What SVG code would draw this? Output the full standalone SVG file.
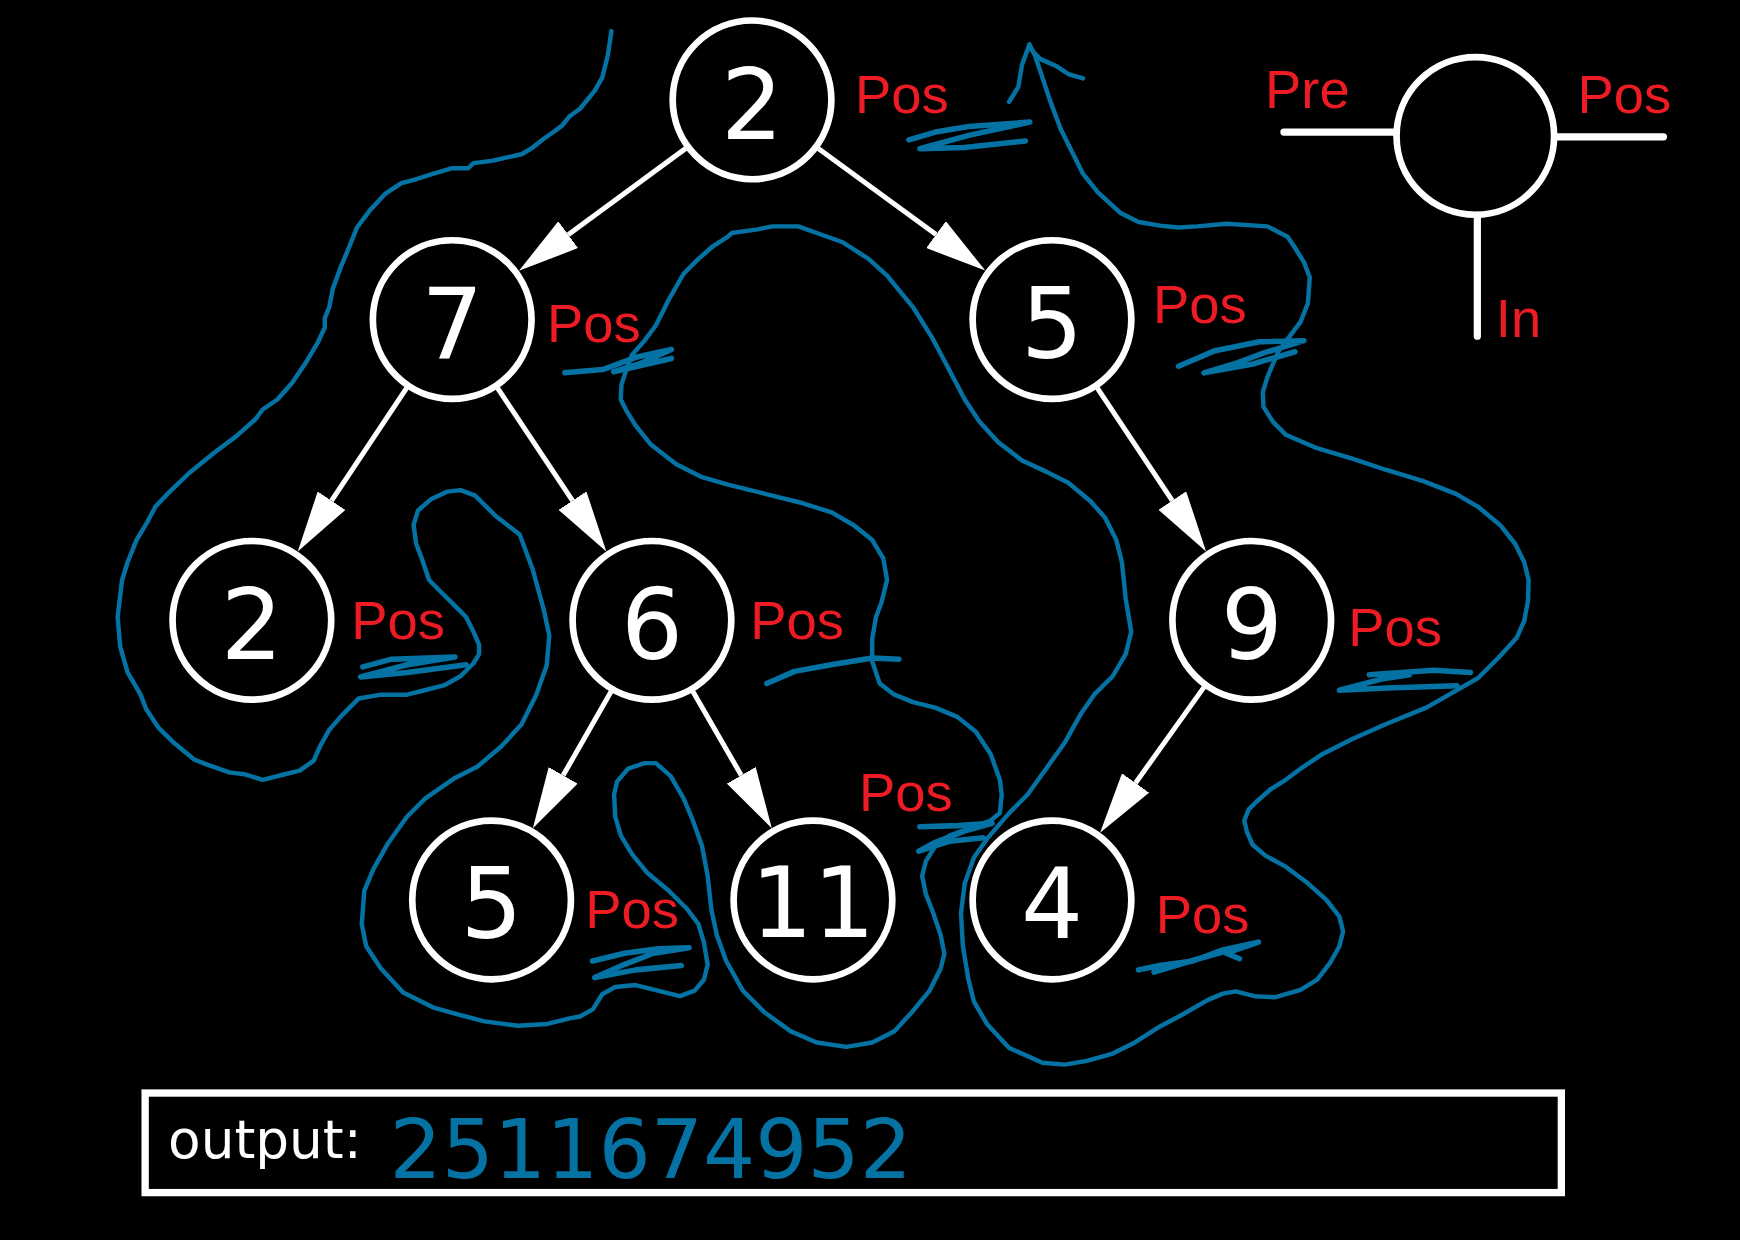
<svg xmlns="http://www.w3.org/2000/svg" width="1740" height="1240" viewBox="0 0 1740 1240">
<defs>
<style>
.node{fill:none;stroke:#fff;stroke-width:6}
.val{fill:#fff;font-family:"DejaVu Sans",sans-serif;font-size:88px;text-anchor:middle}
.lbl{fill:#ed1c24;font-family:"Liberation Sans",Arial,sans-serif;font-size:49px}
.edge{fill:none;stroke:#fff;stroke-width:4.5}
.leg{fill:none;stroke:#fff;stroke-width:6.5;stroke-linecap:round}
.trav{fill:none;stroke:#0572a4;stroke-width:4;stroke-linejoin:round;stroke-linecap:round}
.scr{fill:none;stroke:#0572a4;stroke-width:5;stroke-linejoin:round;stroke-linecap:round}
</style>
<marker id="ah" markerUnits="userSpaceOnUse" markerWidth="55" markerHeight="30" refX="0" refY="15" orient="auto" viewBox="0 0 55 30">
<path d="M0,0 L55,15 L0,30 Z" fill="#fff"/>
</marker>
</defs>
<rect x="0" y="0" width="1740" height="1240" fill="#000"/>
<g transform="scale(1.109694)">
<g id="connectors">
<line class="edge" x1="618" y1="133.7" x2="512" y2="211.5" marker-end="url(#ah)"/>
<line class="edge" x1="737.4" y1="133.8" x2="843.5" y2="211.4" marker-end="url(#ah)"/>
<line class="edge" x1="366.5" y1="349.6" x2="298.8" y2="451.2" marker-end="url(#ah)"/>
<line class="edge" x1="448.4" y1="349.7" x2="515.9" y2="451.1" marker-end="url(#ah)"/>
<line class="edge" x1="988.9" y1="349.7" x2="1056.4" y2="451.1" marker-end="url(#ah)"/>
<line class="edge" x1="550.7" y1="623.2" x2="507.5" y2="698.7" marker-end="url(#ah)"/>
<line class="edge" x1="624.4" y1="623.1" x2="668" y2="698.7" marker-end="url(#ah)"/>
<line class="edge" x1="1085" y1="619.2" x2="1023.3" y2="705.6" marker-end="url(#ah)"/>
</g>
<g id="node-root">
<circle class="node" cx="677.7" cy="90" r="71.5"/>
<text class="val" x="677.7" y="125">2</text>
<text class="lbl" x="770.5" y="102">Pos</text>
</g>
<g id="node-7">
<circle class="node" cx="407.5" cy="288" r="71.5"/>
<text class="val" x="407.5" y="323">7</text>
<text class="lbl" x="493" y="308">Pos</text>
</g>
<g id="node-5a">
<circle class="node" cx="948" cy="288" r="71.5"/>
<text class="val" x="948" y="323">5</text>
<text class="lbl" x="1039" y="291.5">Pos</text>
</g>
<g id="node-2b">
<circle class="node" cx="227" cy="559" r="71.5"/>
<text class="val" x="227" y="594">2</text>
<text class="lbl" x="316.5" y="576">Pos</text>
</g>
<g id="node-6">
<circle class="node" cx="587.5" cy="559" r="71.5"/>
<text class="val" x="587.5" y="594">6</text>
<text class="lbl" x="676" y="576">Pos</text>
</g>
<g id="node-9">
<circle class="node" cx="1128" cy="559" r="71.5"/>
<text class="val" x="1128" y="594">9</text>
<text class="lbl" x="1215" y="582.5">Pos</text>
</g>
<g id="node-5b">
<circle class="node" cx="443" cy="811" r="71.5"/>
<text class="val" x="443" y="845">5</text>
<text class="lbl" x="527.5" y="836">Pos</text>
</g>
<g id="node-11">
<circle class="node" cx="732.6" cy="811" r="71.5"/>
<text class="val" x="732.6" y="844.5">11</text>
<text class="lbl" x="774" y="731">Pos</text>
</g>
<g id="node-4">
<circle class="node" cx="948" cy="811" r="71.5"/>
<text class="val" x="948" y="845">4</text>
<text class="lbl" x="1041.5" y="841">Pos</text>
</g>
<g id="legend">
<circle class="node" cx="1329.5" cy="122.5" r="71"/>
<line class="leg" x1="1157" y1="119" x2="1258" y2="119"/>
<line class="leg" x1="1401" y1="123.3" x2="1499" y2="123.3"/>
<line class="leg" x1="1331.3" y1="194" x2="1331.3" y2="303"/>
<text class="lbl" x="1140" y="97.7">Pre</text>
<text class="lbl" x="1421.5" y="101.7">Pos</text>
<text class="lbl" x="1348" y="304">In</text>
</g>
<g id="traversal">
<path class="trav" d="M551,28 L547.7,50 L542.7,70 L536,81.7 L522.7,98 L513,105 L506.7,113 L500,118 L490,125 L480,133 L470,139 L443,145 L426.7,147 L421.7,151.7 L406.7,151.7 L390,156.7 L373,162 L361.7,165 L346.7,175 L333,190 L321.7,205 L315,221.7 L306.7,241.7 L300,260 L296.7,276.7 L292.7,286.7 L292.7,295 L286.7,308 L276.7,325 L263.3,345 L250,360 L236.7,369 L230,378 L213,393 L193,408 L170,426.7 L153,443 L140,456.7 L133,470 L123,486.7 L115,506.7 L110,522.7 L106,556 L108.3,582.7 L115,606 L126.7,626 L131.7,639 L143,656 L156.7,669.4 L175,684.4 L186.7,689 L206.7,696 L220,697.7 L236.7,702.7 L256.7,697.7 L270,694.4 L282.7,685.4 L288.3,672.7 L296.7,657.7 L308.3,644.4 L323.3,629.4 L343.3,626 L366.7,626 L380,622.7 L400,617.7 L415,609.4 L426.7,597.7 L431.7,589.4 L431.7,581 L426.7,569.4 L420,556 L410,546 L398.3,534.4 L390,526 L386.7,522.7 L380,503 L375,490 L372.7,473 L376.7,460 L388.3,450 L403.3,443 L415,441.7 L428.3,446.7 L446.7,465 L468.3,481.7 L480,513 L490,549.4 L495,572.7 L492.7,599.4 L483.3,626 L470,652.7 L451.7,672.7 L430,691 L410,701 L383.3,719.4 L366.7,736 L350,759.4 L336.7,782.7 L328.3,802.7 L326,832.7 L330,852.7 L343.3,872.7 L363.3,894.4 L390,907.7 L413.3,914.4 L436.7,920.4 L466.7,924.4 L493.3,922.7 L513.3,917.7 L522.7,916 L534.4,909.4 L542.7,896 L554.4,889.4 L572.7,887.7 L592.7,892.7 L612.7,897.7 L626,892.7 L634.4,882.7 L637.7,869.4 L634.4,849.4 L629.4,832.7 L619.4,819.4 L602.7,802.7 L582.7,786 L569.4,769.4 L559.4,752.7 L554.4,736 L553.4,716 L556,704.4 L566,692.7 L581,687.7 L591,687.7 L604.4,699.4 L616,719.4 L624.4,739.4 L632.7,762.7 L637.7,789.4 L641,819.4 L646,842.7 L654.4,866 L669.4,892.7 L689.4,912.7 L712.7,929.4 L736,939.4 L762.7,943.4 L786,939.4 L806,929.4 L822.7,911 L837.7,892.7 L847.7,872.7 L851,859.4 L847.7,842.7 L841,822.7 L834.4,806 L831,789.4 L834.4,776 L842.7,762.7 L856,752.7 L872.7,746.7 L892.7,739.4 L901,732.7 L902.7,716 L901,702.7 L892.7,679.4 L879.4,659.4 L862.7,646 L842.7,637.7 L822.7,632.7 L806,626 L792.7,616 L786,596 L786,576 L789.4,556 L794.4,542.7 L797.7,529.4 L799.4,522.7 L796,503.3 L786,486.7 L769.4,473.3 L749.4,461.7 L722.7,453.3 L689.4,445 L656,436.7 L632.7,430 L609.4,418.3 L586,400 L572.7,383.3 L564.4,370 L559.4,360 L560,346.7 L564.4,333.3 L569.4,320 L581,306.7 L591,293.3 L602.7,270 L616,246.7 L629.4,233.3 L642.7,221.7 L656,213.3 L659.4,210 L682.7,206.7 L696,204 L719.4,204 L736,210 L759.4,218.3 L782.7,233.3 L799.4,248.3 L822.7,276.7 L839.4,303.3 L852.7,328.3 L869.4,360 L882.7,380 L899.4,398.3 L921,415 L942.7,425 L962.7,435 L982.7,451.7 L996,466.7 L1006,486.7 L1011,506.7 L1012.7,522.7 L1014.4,539.4 L1019.4,569.4 L1014.4,589.4 L1002.7,609.4 L986,626 L974.4,642.7 L959.4,669.4 L942.7,692.7 L926,716 L909.4,732.7 L889.4,756 L877.7,772.7 L869.4,796 L866,822.7 L867.7,852.7 L872.7,882.7 L877.7,902.7 L889.4,922.7 L909.4,944.4 L939.4,957.7 L959.4,959.4 L979.4,956 L1002.7,949.4 L1022.7,939.4 L1045.3,925 L1065.3,914.4 L1088.6,901 L1102,895.4 L1113.6,893.4 L1130.3,897.7 L1148.6,898.7 L1172,892 L1187,882.7 L1198.6,867.7 L1207,852.7 L1210.3,839.4 L1207,826 L1195.3,811 L1178.6,796 L1158.6,781 L1140.3,771 L1128.6,761 L1123.6,749.4 L1121.3,739.4 L1125.3,729.4 L1132,722.7 L1145.3,711 L1158.6,702.7 L1172,692.7 L1192,679.4 L1218.6,666 L1248.6,652.7 L1285.3,637.7 L1308.6,624.4 L1332,611 L1350.3,592.7 L1367,574.4 L1373.6,559.4 L1377,541 L1377.5,522.7 L1373.6,506.7 L1365.3,490 L1352,473.3 L1332,456.7 L1312,445 L1282,433.3 L1248.6,423.3 L1218.6,413.3 L1185.3,403.3 L1158.6,391.7 L1147,380 L1138.6,366.7 L1138,353.3 L1142,340 L1147,328.3 L1152,316.7 L1162,303.3 L1172,290 L1178.6,273.3 L1180.3,250 L1175.3,236.7 L1167,223.3 L1160.3,213.3 L1142,204 L1105.3,201.7 L1078.6,204 L1062,205 L1045.3,203.3 L1026,200 L1009.4,191.7 L989.4,173.3 L976,156.7 L966,136.7 L956,116.7 L946,90 L939.4,70 L932.7,50 L927.7,40"/>
<path class="trav" d="M927.7,40 L921,58.3 L917.7,78.3 L909.4,91.7"/>
<path class="trav" d="M927.7,42 L931,46.7 L937.7,53.3 L952.7,60 L962.7,66.7 L976,70.7"/>
<path class="scr" d="M819,126 L843,119 L873,114 L928,110 L873,122 L829,134 L869,133 L924,127"/>
<path class="scr" d="M509,336 L543,333 L573,322 L605,315 L576,328 L553,335 L605,323"/>
<path class="scr" d="M1062,330 L1095,316 L1135,308 L1175,307 L1139,318 L1112,328 L1085,336 L1129,328 L1167,317"/>
<path class="scr" d="M327,601 L353,594 L410,592 L367,599 L325,610 L367,606 L420,599"/>
<path class="scr" d="M691,616 L716,605 L749,599 L786,593 L810,594"/>
<path class="scr" d="M1234,608 L1292,604 L1325,606 M1313,618 L1250,620 L1207,622 L1245,612 L1270,608"/>
<path class="scr" d="M829,745 L863,744 L894,742 L869,749 L843,759 L828,767 L856,758 L886,755"/>
<path class="scr" d="M534,866 L563,859 L593,855 L621,854 L589,859 L563,869 L536,881 L573,874 L614,870"/>
<path class="scr" d="M1026,874 L1045,870 L1075,866 L1102,856 L1134,849 L1105,859 L1117,864 M1040,876 L1080,864 L1120,853"/>
</g>
<g id="output">
<rect x="130.8" y="985" width="1276.2" height="89.7" fill="none" stroke="#fff" stroke-width="6.6"/>
<text x="151.5" y="1043.5" style="fill:#fff;font-family:'DejaVu Sans',sans-serif;font-size:48px">output:</text>
<text x="351" y="1061.5" style="fill:#0572a4;font-family:'DejaVu Sans',sans-serif;font-size:74px">2511674952</text>
</g>
</g>
</svg>
